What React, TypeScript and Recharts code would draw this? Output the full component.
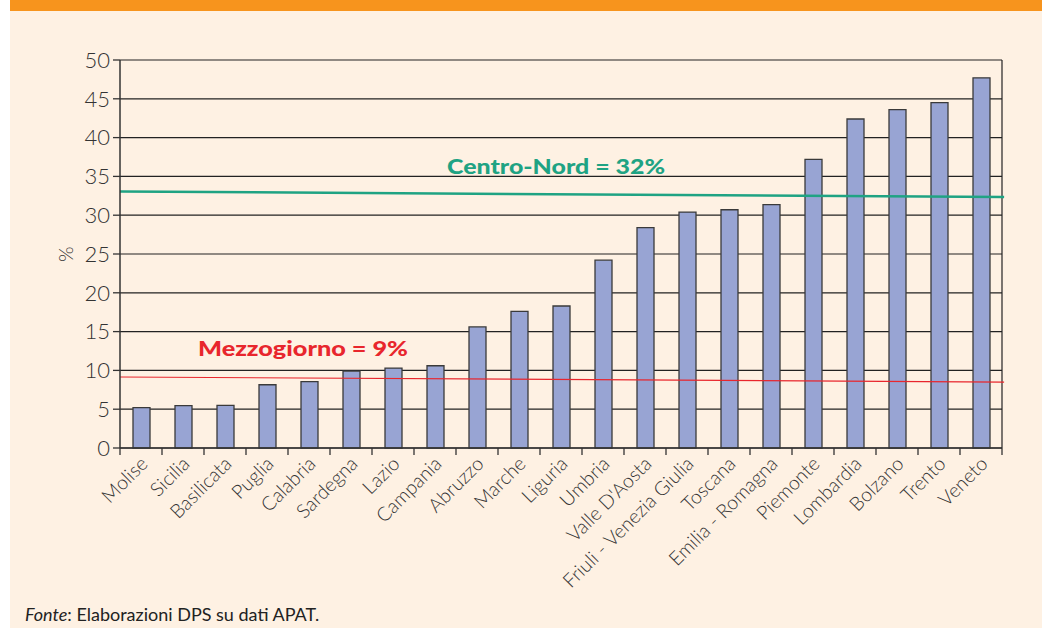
import {
  BarChart,
  Bar,
  XAxis,
  YAxis,
  CartesianGrid,
  ReferenceLine,
} from "recharts";

const regions = [
  "Molise",
  "Sicilia",
  "Basilicata",
  "Puglia",
  "Calabria",
  "Sardegna",
  "Lazio",
  "Campania",
  "Abruzzo",
  "Marche",
  "Liguria",
  "Umbria",
  "Valle D'Aosta",
  "Friuli - Venezia Giulia",
  "Toscana",
  "Emilia - Romagna",
  "Piemonte",
  "Lombardia",
  "Bolzano",
  "Trento",
  "Veneto",
];

const values = [
  5.2, 5.45, 5.5, 8.15, 8.55, 9.9, 10.3, 10.6, 15.6, 17.6, 18.3, 24.2, 28.4,
  30.4, 30.7, 31.35, 37.2, 42.4, 43.6, 44.5, 47.7,
];

const yTicks = [0, 5, 10, 15, 20, 25, 30, 35, 40, 45, 50];

// linee di riferimento (leggermente inclinate nell'originale)
const centroNord = { label: "Centro-Nord = 32%", from: 33.05, to: 32.35 };
const mezzogiorno = { label: "Mezzogiorno = 9%", from: 9.15, to: 8.5 };

const data = regions.map((name, i) => ({ name, idx: i, value: values[i] }));
const last = regions.length - 1;

const FONT = "Lato, 'DejaVu Sans', sans-serif";
const GREEN = "#1fa383";
const RED = "#e8262d";
const INK = "#333";

const CategoryTick = ({ x, y, payload, index }: any) => {
  const half = 882 / regions.length / 2;
  return (
    <g>
      <line x1={x - half} y1={y - 8} x2={x - half} y2={y - 1} stroke={INK} strokeWidth={1.3} />
      {index === last && (
        <line x1={x + half} y1={y - 8} x2={x + half} y2={y - 1} stroke={INK} strokeWidth={1.3} />
      )}
      <text
        x={x + 8}
        y={y + 9}
        transform={`rotate(-45 ${x + 8} ${y + 9})`}
        textAnchor="end"
        fontFamily={FONT}
        fontWeight={300}
        fontSize={19.5}
        fill={INK}
      >
        {payload.value}
      </text>
    </g>
  );
};

const lineLabel =
  (text: string, color: string, left: number, baseline: number, len: number) => () => (
    <text
      x={left}
      y={baseline}
      fontFamily={FONT}
      fontWeight={900}
      fontSize={21}
      fill={color}
      textLength={len}
      lengthAdjust="spacingAndGlyphs"
    >
      {text}
    </text>
  );

export default function App() {
  return (
    <div
      style={{
        position: "absolute",
        left: 0,
        top: 0,
        width: 1042,
        height: 628,
        background: "#fff",
        overflow: "hidden",
      }}
    >
      <div
        style={{
          position: "absolute",
          left: 10,
          top: 0,
          width: 1032,
          height: 628,
          background: "#fef1e3",
        }}
      />
      <div
        style={{
          position: "absolute",
          left: 10,
          top: 0,
          width: 1032,
          height: 11,
          background: "#f7941d",
        }}
      />
      <div style={{ position: "absolute", left: 0, top: 0 }}>
        <BarChart
          width={1042}
          height={628}
          data={data}
          margin={{ top: 60, right: 40, left: 0, bottom: 0 }}
          barCategoryGap={0}
        >
          <CartesianGrid
            vertical={true}
            verticalPoints={[1002]}
            stroke="#222"
            strokeWidth={1.2}
          />
          <XAxis
            dataKey="name"
            interval={0}
            tickLine={false}
            axisLine={{ stroke: INK, strokeWidth: 1.5 }}
            tick={<CategoryTick />}
            height={180}
          />
          <XAxis
            xAxisId="n"
            dataKey="idx"
            type="number"
            domain={[-0.5, last + 0.5]}
            allowDataOverflow
            hide
          />
          <YAxis
            width={120}
            domain={[0, 50]}
            ticks={yTicks}
            interval={0}
            tickSize={7}
            tickMargin={3}
            tickLine={{ stroke: INK, strokeWidth: 1.3 }}
            axisLine={{ stroke: INK, strokeWidth: 1.5 }}
            tick={{ fontFamily: FONT, fontWeight: 300, fontSize: 22, fill: INK }}
            label={{
              value: "%",
              angle: -90,
              position: "insideLeft",
              offset: 66,
              dy: 8,
              fontFamily: FONT,
              fontWeight: 300,
              fontSize: 20,
              fill: INK,
            }}
          />
          <Bar
            dataKey="value"
            barSize={17}
            fill="#98a4d3"
            stroke="#3a3a3a"
            strokeWidth={1.3}
            isAnimationActive={false}
          />
          <ReferenceLine
            xAxisId="n"
            segment={[
              { x: -0.5, y: centroNord.from },
              { x: last + 0.55, y: centroNord.to },
            ]}
            stroke={GREEN}
            strokeWidth={2.5}
            ifOverflow="visible"
            label={lineLabel(centroNord.label, GREEN, 447, 174, 218)}
          />
          <ReferenceLine
            xAxisId="n"
            segment={[
              { x: -0.5, y: mezzogiorno.from },
              { x: last + 0.55, y: mezzogiorno.to },
            ]}
            stroke={RED}
            strokeWidth={1.2}
            ifOverflow="visible"
            label={lineLabel(mezzogiorno.label, RED, 198, 356, 210)}
          />
        </BarChart>
      </div>
      <div
        style={{
          position: "absolute",
          left: 25,
          top: 603,
          fontFamily: FONT,
          fontSize: 18,
          color: "#222",
        }}
      >
        <i>Fonte</i>: Elaborazioni DPS su dati APAT.
      </div>
    </div>
  );
}
